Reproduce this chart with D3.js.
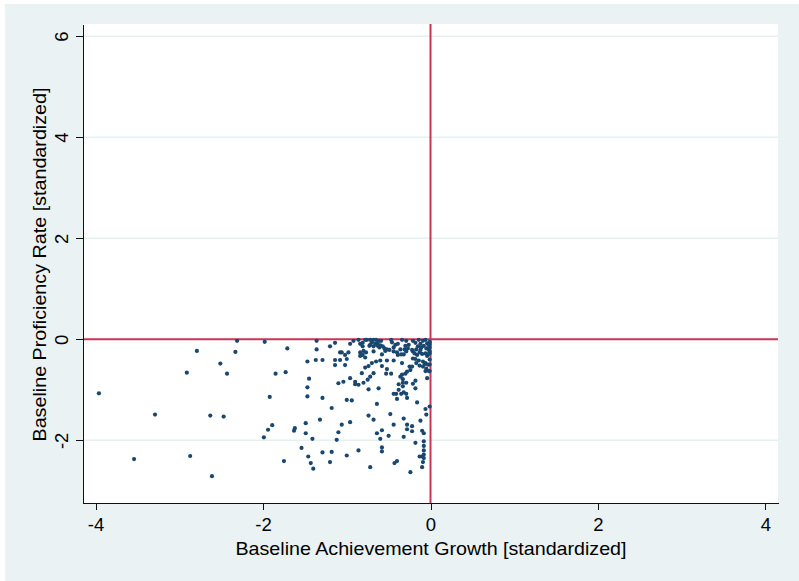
<!DOCTYPE html>
<html>
  <head>
    <meta charset="utf-8">
    <script type="text/javascript" src="https://cdnjs.cloudflare.com/ajax/libs/d3/7.8.5/d3.min.js"></script>
    <style type="text/css">
    body {
      margin: 0;
      background: white;
    }
    .axis path,
    .axis line {
      fill: none;
      stroke: #111;
      shape-rendering: crispEdges;
    }
    .axis text {
      fill: black;
      font-family: "Liberation Sans", Arial, sans-serif;
      font-size: 18.5px;
    }
    .title {
      fill: black;
      font-family: "Liberation Sans", Arial, sans-serif;
      font-size: 18.5px;
    }
    .dot {
      fill: #1a476f;
    }
    </style>
  </head>
  <body>
    <script type="text/javascript">
      // baseline achievement growth (x) and baseline proficiency rate (y), standardized
      var growth = [
        -2.31,-1.98,-2.79,-2.33,-2.51,-2.91,-2.43,-1.85,-3.96,-1.92,
        -3.29,-2.63,-2.47,-1.89,-1.94,-1.99,-3.54,-2.87,-2.61,-1.71,
        -1.73,-1.36,-1.36,-1.20,-1.14,-0.96,-0.92,-0.86,-0.81,-0.76,
        -0.72,-0.68,-0.65,-0.62,-0.59,-0.72,-0.68,-0.63,-0.55,-0.47,
        -0.42,-0.39,-0.34,-0.29,-0.26,-0.21,-0.18,-0.14,-0.12,-0.09,
        -0.06,-0.04,-0.01,-0.01,-0.22,-0.17,-0.15,-0.11,-0.08,-0.05,
        -0.02,-0.01,-0.01,-0.84,-0.80,-0.77,-0.81,-0.84,-0.78,-0.68,
        -0.61,-0.58,-0.54,-0.49,-0.44,-0.39,-0.35,-0.32,-0.29,-0.31,
        -0.21,-0.19,-0.16,-0.13,-0.10,-0.06,-0.02,-1.08,-1.06,-1.02,
        -0.98,-1.14,-1.08,-1.00,-1.02,-1.14,-1.29,-1.37,-1.47,-0.78,
        -0.74,-0.70,-0.65,-0.60,-0.58,-0.52,-0.44,-0.34,-0.21,-0.18,
        -0.14,-0.09,-0.06,-0.09,-0.07,-0.25,-0.22,-0.24,-0.28,-0.30,
        -0.34,-0.36,-0.02,-0.06,-0.01,-0.52,-0.53,-0.47,-0.68,-0.72,
        -0.75,-0.82,-0.80,-0.90,-0.90,-0.96,-1.04,-1.10,-0.86,-0.74,
        -0.62,-0.33,-0.33,-0.29,-0.21,-0.18,-0.18,-0.38,-0.38,-0.33,
        -0.32,-0.29,-0.41,-0.35,-0.44,-0.40,-0.28,-0.16,-0.04,-0.01,
        -0.05,-0.06,-1.45,-1.47,-1.47,-1.29,-1.00,-0.94,-1.18,-0.64,
        -0.74,-0.68,-0.48,-0.32,-0.12,-0.44,-0.28,-0.22,-0.28,-0.22,
        -0.10,-0.08,-0.58,-0.64,-0.60,-0.50,-0.32,-0.18,-0.08,-0.08,
        -0.08,-0.13,-0.10,-0.08,-0.08,-0.09,-0.10,-0.24,-0.43,-0.40,
        -0.72,-0.58,-0.58,-0.86,-1.00,-1.18,-1.20,-1.29,-1.40,-1.43,
        -1.46,-1.54,-1.75,-1.63,-1.62,-1.49,-1.49,-1.41,-1.32,-1.12,
        -1.10,-1.06,-0.96,-0.84,-0.81,-0.78,-0.73,-0.70,-0.66,-0.63,
        -0.60,-0.57,-0.52,-0.46,-0.44,-0.40,-0.36,-0.30,-0.27,-0.12,
        -0.04,-0.03,-0.01,-0.05,-0.13,-0.17,-0.01,-0.01,-0.01,-0.02
      ];
      var proficiency = [
        -0.03,-0.05,-0.23,-0.25,-0.48,-0.66,-0.68,-0.68,-1.07,-1.14,
        -1.49,-1.51,-1.53,-1.70,-1.79,-1.94,-2.37,-2.31,-2.71,-0.18,
        -0.65,-0.03,-0.20,-0.14,-0.07,-0.09,-0.03,-0.01,-0.07,-0.01,
        -0.01,-0.01,-0.01,-0.03,-0.03,-0.11,-0.14,-0.13,-0.18,-0.01,
        -0.11,-0.09,-0.01,-0.03,-0.11,-0.03,-0.07,-0.01,-0.09,-0.03,
        -0.01,-0.08,-0.07,-0.11,-0.21,-0.20,-0.14,-0.16,-0.13,-0.18,
        -0.20,-0.28,-0.24,-0.26,-0.23,-0.26,-0.31,-0.33,-0.36,-0.24,
        -0.16,-0.30,-0.23,-0.21,-0.24,-0.31,-0.30,-0.30,-0.24,-0.20,
        -0.24,-0.28,-0.31,-0.26,-0.29,-0.28,-0.29,-0.26,-0.26,-0.31,
        -0.26,-0.41,-0.41,-0.39,-0.51,-0.51,-0.41,-0.41,-0.44,-0.56,
        -0.53,-0.47,-0.44,-0.42,-0.53,-0.42,-0.42,-0.47,-0.38,-0.39,
        -0.42,-0.44,-0.47,-0.54,-0.49,-0.54,-0.54,-0.61,-0.64,-0.68,
        -0.70,-0.74,-0.63,-0.63,-0.63,-0.59,-0.68,-0.68,-0.67,-0.74,
        -0.80,-0.67,-0.86,-0.84,-0.89,-0.77,-0.84,-0.87,-0.90,-0.99,
        -0.97,-0.79,-0.86,-0.86,-0.88,-0.82,-0.97,-0.89,-1.00,-0.93,
        -1.05,-1.08,-1.08,-1.08,-1.08,-1.18,-1.16,-1.25,-0.77,-1.33,
        -1.49,-1.38,-0.78,-0.95,-1.13,-1.16,-1.20,-1.21,-1.36,-1.28,
        -1.51,-1.59,-1.48,-1.57,-1.61,-1.69,-1.69,-1.72,-1.78,-1.82,
        -1.81,-1.86,-1.80,-1.86,-1.97,-1.91,-1.93,-2.05,-2.02,-2.11,
        -2.20,-2.32,-2.32,-2.28,-2.35,-2.43,-2.53,-2.63,-2.45,-2.41,
        -2.53,-2.14,-2.22,-2.20,-2.30,-2.23,-2.43,-2.24,-2.56,-2.45,
        -2.32,-2.15,-2.41,-1.81,-1.76,-1.66,-1.86,-1.97,-1.59,-1.99,
        -1.84,-1.69,-1.64,-0.09,-0.14,-0.01,-0.13,-0.06,-0.09,-0.07,
        -0.12,-0.14,-0.20,-0.06,-0.16,-0.26,-0.20,-0.13,-0.18,-0.21,
        -0.33,-0.50,-0.40,-0.58,-0.52,-0.47,-0.05,-0.16,-0.50,-0.12
      ];
      var xTicks = [-4, -2, 0, 2, 4];
      var yTicks = [-2, 0, 2, 4, 6];
      var xTitle = "Baseline Achievement Growth [standardized]";
      var yTitle = "Baseline Proficiency Rate [standardized]";

      var w = 799;
      var h = 581;
      // plot region edges
      var plotLeft = 83, plotRight = 778, plotTop = 24, plotBottom = 503;

      var data = growth.map(function(d, i) { return {x: d, y: proficiency[i]}; });

      var svg = d3.select("body")
                  .append("svg")
                  .attr("width", w)
                  .attr("height", h);

      // light stata-like background and white plot region
      svg.append("rect")
         .attr("x", 5).attr("y", 4)
         .attr("width", w - 5).attr("height", h - 4)
         .attr("fill", "#eaf2f3");
      svg.append("rect")
         .attr("x", plotLeft).attr("y", plotTop)
         .attr("width", plotRight - plotLeft).attr("height", plotBottom - plotTop)
         .attr("fill", "white");

      var xScale = d3.scaleLinear()
                     .domain([-4.15, 4.15])
                     .range([plotLeft, plotRight]);
      var yScale = d3.scaleLinear()
                     .domain([-3.24, 6.24])
                     .range([plotBottom, plotTop]);

      // horizontal grid lines
      svg.selectAll(".grid")
         .data(yTicks.filter(function(d) { return d !== 0; }))
         .enter()
         .append("line")
           .attr("class", "grid")
           .attr("x1", plotLeft).attr("x2", plotRight)
           .attr("y1", function(d) { return yScale(d); })
           .attr("y2", function(d) { return yScale(d); })
           .attr("stroke", "#e6f0f1")
           .attr("stroke-width", 1.5);

      // reference lines at zero
      svg.append("line")
         .attr("x1", xScale(0)).attr("x2", xScale(0))
         .attr("y1", plotTop).attr("y2", plotBottom)
         .attr("stroke", "#cc3355")
         .attr("stroke-width", 2);
      svg.append("line")
         .attr("x1", plotLeft).attr("x2", plotRight)
         .attr("y1", yScale(0)).attr("y2", yScale(0))
         .attr("stroke", "#cc3355")
         .attr("stroke-width", 2);

      // axes
      var xAxis = d3.axisBottom(xScale)
                    .tickValues(xTicks)
                    .tickSize(7)
                    .tickSizeOuter(0)
                    .tickFormat(d3.format("d"));
      var yAxis = d3.axisLeft(yScale)
                    .tickValues(yTicks)
                    .tickSize(7)
                    .tickSizeOuter(0)
                    .tickFormat(d3.format("d"));

      var gx = svg.append("g")
                  .attr("class", "axis")
                  .attr("transform", "translate(0," + plotBottom + ")")
                  .call(xAxis);
      gx.selectAll("text")
        .attr("y", 28)
        .attr("dy", 0)
        .text(function(d) { return d < 0 ? "-" + Math.abs(d) : d; });

      var gy = svg.append("g")
                  .attr("class", "axis")
                  .attr("transform", "translate(" + plotLeft + ",0)")
                  .call(yAxis);
      gy.selectAll("text")
        .attr("transform", "rotate(-90)")
        .attr("x", 0)
        .attr("y", -15)
        .attr("dy", 0)
        .style("text-anchor", "middle")
        .text(function(d) { return d < 0 ? "-" + Math.abs(d) : d; });

      // axis titles
      svg.append("text")
         .attr("class", "title")
         .attr("x", 431)
         .attr("y", 555)
         .attr("text-anchor", "middle")
         .attr("textLength", 391)
         .attr("lengthAdjust", "spacingAndGlyphs")
         .text(xTitle);
      svg.append("text")
         .attr("class", "title")
         .attr("transform", "translate(46," + ((plotTop + plotBottom) / 2 + 1) + ") rotate(-90)")
         .attr("text-anchor", "middle")
         .attr("textLength", 354)
         .attr("lengthAdjust", "spacingAndGlyphs")
         .text(yTitle);

      // scatter points
      svg.selectAll(".dot")
         .data(data)
         .enter()
         .append("circle")
           .attr("class", "dot")
           .attr("cx", function(d) { return xScale(d.x); })
           .attr("cy", function(d) { return yScale(d.y); })
           .attr("r", 2.1);
    </script>
  </body>
</html>
